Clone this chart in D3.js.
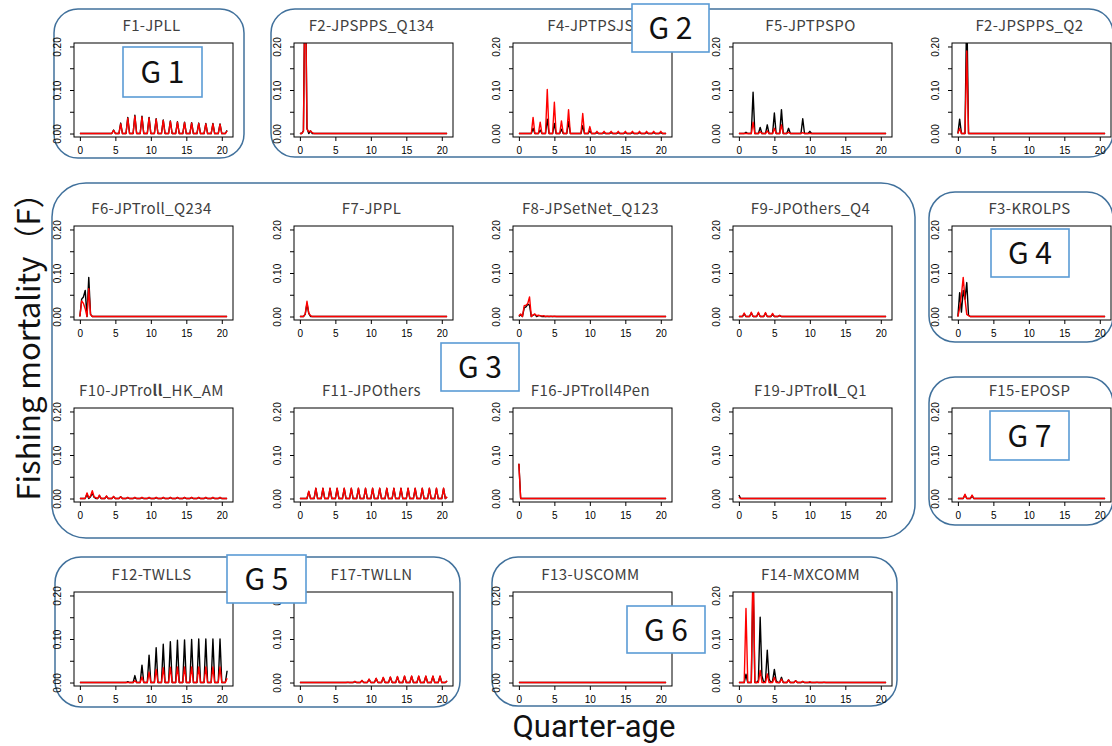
<!DOCTYPE html>
<html lang="en">
<head>
<meta charset="utf-8">
<title>Fishing mortality by fleet and quarter-age</title>
<script src="https://cdn.jsdelivr.net/npm/d3@7"></script>
<style>
  body { margin: 0; background: #fff; }
  .ttl { font-family: "Noto Sans CJK JP", "Noto Sans", sans-serif; font-size: 15px; fill: #404040; letter-spacing: 0.4px; }
  .tick text { font-family: "Liberation Sans", Arial, sans-serif; font-size: 10px; fill: #000; }
  .tick line { stroke: #000; }
  .big { font-family: "Noto Sans CJK JP", "Noto Sans", sans-serif; fill: #111; }
</style>
</head>
<body>
<script>
// quarter ages on the x axis (0 .. 20.75)
const quarterAges = d3.range(0, 20.76, 0.25);
const ageTicks = [0, 5, 10, 15, 20];
const fTicks = [0, 0.05, 0.10, 0.15, 0.20];
const fTickLabels = ["0.00", "", "0.10", "", "0.20"];

// F values as [quarter-age, F]; quarters not listed sit at 0
const f1Black = [[4.75,.008],[5.75,.024],[6.75,.037],[7.75,.042],[8.75,.040],[9.75,.037],[10.75,.034],[11.75,.031],[12.75,.029],[13.75,.027],[14.75,.026],[15.75,.025],[16.75,.024],[17.75,.023],[18.75,.023],[19.75,.022],[20.75,.007]];
const f1Red   = [[4.75,.007],[5.75,.022],[6.75,.035],[7.75,.040],[8.75,.038],[9.75,.036],[10.75,.033],[11.75,.030],[12.75,.028],[13.75,.026],[14.75,.025],[15.75,.024],[16.75,.023],[17.75,.022],[18.75,.022],[19.75,.021],[20.75,.006]];
const f2q134Black = [[0.5,.006],[0.75,.42],[1.0,.012],[1.5,.006]];
const f2q134Red   = [[0.5,.005],[0.75,.40],[1.0,.010],[1.25,.004],[1.5,.006],[1.75,.002]];
const f4Black = [[2,.012],[3,.008],[4,.033],[5,.023],[6,.010],[7,.028],[9,.018],[10,.006],[11,.002],[12,.002],[13,.002],[14,.002],[15,.002],[16,.002],[17,.002],[18,.002],[19,.002],[20,.002]];
const f4Red   = [[2,.037],[3,.026],[4,.101],[5,.072],[6,.029],[7,.055],[9,.046],[10,.016],[11,.005],[12,.005],[13,.005],[14,.005],[15,.005],[16,.005],[17,.005],[18,.005],[19,.005],[20,.005]];
const f5Black = [[1,.003],[2,.095],[3,.014],[4,.020],[5,.047],[6,.055],[7,.012],[9,.034],[10,.005]];
const f5Red   = [[2,.026],[3,.004],[4,.006],[5,.012],[6,.020],[7,.003],[9,.002]];
const f2q2Black = [[0.25,.033],[1.25,.30]];
const f2q2Red   = [[0.25,.012],[1.25,.19]];
const f6Black = [[0.25,.040],[0.5,.045],[0.75,.060],[1.25,.090],[1.5,.005]];
const f6Red   = [[0.25,.036],[0.5,.030],[0.75,.018],[1.25,.064],[1.5,.005]];
const f7Black = [[0.75,.005],[1.0,.030],[1.25,.007]];
const f7Red   = [[0.75,.006],[1.0,.035],[1.25,.008],[1.5,.002]];
const f8Black = [[0.25,.004],[0.75,.020],[1.0,.022],[1.25,.028],[1.5,.026],[2.0,.003],[2.25,.005],[2.75,.002],[3.0,.002]];
const f8Red   = [[0,.002],[0.25,.006],[0.75,.025],[1.0,.026],[1.25,.030],[1.5,.045],[2.0,.004],[2.25,.006],[2.5,.002],[2.75,.003],[3.0,.002],[3.25,.001],[3.5,.002],[4.0,.001],[4.5,.001],[5.0,.001]];
const f9Black = [[0.75,.006],[1.75,.008],[2.75,.008],[3.75,.007],[4.75,.005],[5.75,.002]];
const f9Red   = [[0.75,.008],[1.75,.010],[2.75,.010],[3.75,.009],[4.75,.007],[5.75,.003]];
const f3Black = [[0.25,.055],[0.5,.010],[0.75,.060],[1.0,.040],[1.25,.078],[1.5,.003]];
const f3Red   = [[0.25,.020],[0.5,.050],[0.75,.090],[1.0,.040],[1.25,.005],[1.5,.002]];
const f10Black = [[1.0,.010],[1.5,.004],[1.75,.012],[2.0,.003],[2.75,.006],[3.75,.005],[4.75,.004],[5.75,.004],[6.75,.002],[7.75,.002],[8.75,.002],[9.75,.002],[10.75,.002],[11.75,.002],[12.75,.002],[13.75,.002],[14.75,.002],[15.75,.002],[16.75,.002],[17.75,.002],[18.75,.002],[19.75,.002]];
const f10Red   = [[1.0,.013],[1.25,.002],[1.5,.006],[1.75,.018],[2.0,.004],[2.25,.002],[2.75,.008],[3.75,.006],[4.75,.005],[5.75,.004],[6.75,.003],[7.75,.003],[8.75,.003],[9.75,.003],[10.75,.003],[11.75,.003],[12.75,.003],[13.75,.003],[14.75,.003],[15.75,.003],[16.75,.003],[17.75,.003],[18.75,.003],[19.75,.003]];
const f11Black = [[1.25,.016],[2.25,.023],[3.25,.023],[4.25,.023],[5.25,.023],[6.25,.023],[7.25,.023],[8.25,.023],[9.25,.023],[10.25,.023],[11.25,.023],[12.25,.023],[13.25,.023],[14.25,.023],[15.25,.023],[16.25,.023],[17.25,.023],[18.25,.023],[19.25,.023],[20.25,.023],[20.75,.003]];
const f11Red   = [[1.25,.017],[2.25,.024],[3.25,.024],[4.25,.024],[5.25,.024],[6.25,.024],[7.25,.024],[8.25,.024],[9.25,.024],[10.25,.024],[11.25,.024],[12.25,.024],[13.25,.024],[14.25,.024],[15.25,.024],[16.25,.024],[17.25,.024],[18.25,.024],[19.25,.024],[20.25,.024],[20.75,.004]];
const f16Black = [[0,.080]];
const f16Red   = [[0,.080]];
const f19Black = [[0,.008]];
const f19Red   = [[0,.003]];
const f15Black = [[1.0,.008],[2.0,.006]];
const f15Red   = [[1.0,.010],[2.0,.008]];
const f12Black = [[6.75,.002],[7.75,.016],[8.75,.040],[9.75,.063],[10.75,.080],[11.75,.088],[12.75,.094],[13.75,.097],[14.75,.098],[15.75,.099],[16.75,.100],[17.75,.100],[18.75,.100],[19.75,.100],[20.75,.027]];
const f12Red   = [[7.75,.004],[8.75,.013],[9.75,.024],[10.75,.030],[11.75,.034],[12.75,.035],[13.75,.036],[14.75,.036],[15.75,.036],[16.75,.036],[17.75,.036],[18.75,.036],[19.75,.036],[20.75,.010]];
const f17Black = [[7.75,.002],[8.75,.004],[9.75,.007],[10.75,.009],[11.75,.011],[12.75,.012],[13.75,.013],[14.75,.014],[15.75,.014],[16.75,.014],[17.75,.014],[18.75,.014],[19.75,.014],[20.75,.003]];
const f17Red   = [[6.75,.001],[7.75,.003],[8.75,.005],[9.75,.008],[10.75,.010],[11.75,.012],[12.75,.013],[13.75,.014],[14.75,.015],[15.75,.015],[16.75,.015],[17.75,.015],[18.75,.015],[19.75,.015],[20.75,.004]];
const f13Black = [];
const f13Red   = [];
const f14Black = [[1.0,.019],[2.0,.25],[2.75,.005],[3.0,.150],[3.25,.015],[3.75,.004],[4.0,.074],[4.25,.008],[4.75,.003],[5.0,.030],[5.25,.004],[6.0,.012],[7.0,.006],[8.0,.004],[9.0,.002]];
const f14Red   = [[1.0,.170],[2.0,.30],[3.0,.028],[4.0,.020],[5.0,.012],[6.0,.008],[7.0,.006],[8.0,.004],[9.0,.003],[10.0,.002],[11.0,.001],[12.0,.001]];

// titles are split so the "ll" of JPTroll can be drawn heavier, as in the figure
const panels = [
  { name: ["F1-JPLL"],                  col: 0, row: 0, black: f1Black,     red: f1Red },
  { name: ["F2-JPSPPS_Q134"],           col: 1, row: 0, black: f2q134Black, red: f2q134Red },
  { name: ["F4-JPTPSJS"],               col: 2, row: 0, black: f4Black,     red: f4Red },
  { name: ["F5-JPTPSPO"],               col: 3, row: 0, black: f5Black,     red: f5Red },
  { name: ["F2-JPSPPS_Q2"],             col: 4, row: 0, black: f2q2Black,   red: f2q2Red },
  { name: ["F6-JPTroll_Q234"],          col: 0, row: 1, black: f6Black,     red: f6Red },
  { name: ["F7-JPPL"],                  col: 1, row: 1, black: f7Black,     red: f7Red },
  { name: ["F8-JPSetNet_Q123"],         col: 2, row: 1, black: f8Black,     red: f8Red },
  { name: ["F9-JPOthers_Q4"],           col: 3, row: 1, black: f9Black,     red: f9Red },
  { name: ["F3-KROLPS"],                col: 4, row: 1, black: f3Black,     red: f3Red },
  { name: ["F10-JPTro", "ll", "_HK_AM"], col: 0, row: 2, black: f10Black,   red: f10Red },
  { name: ["F11-JPOthers"],             col: 1, row: 2, black: f11Black,    red: f11Red },
  { name: ["F16-JPTroll4Pen"],          col: 2, row: 2, black: f16Black,    red: f16Red },
  { name: ["F19-JPTro", "ll", "_Q1"],    col: 3, row: 2, black: f19Black,    red: f19Red },
  { name: ["F15-EPOSP"],                col: 4, row: 2, black: f15Black,    red: f15Red },
  { name: ["F12-TWLLS"],                col: 0, row: 3, black: f12Black,    red: f12Red },
  { name: ["F17-TWLLN"],                col: 1, row: 3, black: f17Black,    red: f17Red },
  { name: ["F13-USCOMM"],               col: 2, row: 3, black: f13Black,    red: f13Red },
  { name: ["F14-MXCOMM"],               col: 3, row: 3, black: f14Black,    red: f14Red }
];

const groupLabels = ["G 1", "G 2", "G 3", "G 4", "G 5", "G 6", "G 7"];

// layout
const W = 1112, H = 746;
const colX = [74, 294, 513, 733, 952];
const rowY = [43, 226, 408, 592];
const PW = 159, PH = 94;

const svg = d3.select("body").append("svg")
  .attr("width", W)
  .attr("height", H);

// rounded group outlines
const frames = [
  { x: 54,  y: 9,   w: 190, h: 149, r: 24 },
  { x: 271, y: 9,   w: 842, h: 148, r: 24 },
  { x: 52,  y: 183, w: 863, h: 355, r: 34 },
  { x: 929, y: 192, w: 184, h: 150, r: 26 },
  { x: 55,  y: 557, w: 405, h: 150, r: 26 },
  { x: 492, y: 557, w: 405, h: 149, r: 26 },
  { x: 929, y: 377, w: 184, h: 148, r: 26 }
];
svg.append("g").selectAll("rect")
  .data(frames)
  .enter().append("rect")
  .attr("x", d => d.x).attr("y", d => d.y)
  .attr("width", d => d.w).attr("height", d => d.h)
  .attr("rx", d => d.r)
  .attr("fill", "none")
  .attr("stroke", "#41719C")
  .attr("stroke-width", 1.5);

const x = d3.scaleLinear().domain([-0.83, 21.58]).range([0, PW]);
const y = d3.scaleLinear().domain([-0.008, 0.208]).range([PH, 0]);

function fullSeries(pairs) {
  const m = new Map(pairs.map(p => [p[0], p[1]]));
  return quarterAges.map(a => [a, m.has(a) ? m.get(a) : 0]);
}

const line = d3.line().x(d => x(d[0])).y(d => y(d[1]));

panels.forEach(function (p, i) {
  const g = svg.append("g")
    .attr("transform", `translate(${colX[p.col]},${rowY[p.row]})`);

  const t = g.append("text")
    .attr("class", "ttl")
    .attr("x", PW / 2 - 2)
    .attr("y", -12.5)
    .attr("text-anchor", "middle");
  p.name.forEach((s, k) => {
    t.append("tspan").text(s).attr("font-weight", k === 1 ? 700 : null);
  });

  g.append("clipPath").attr("id", "clip" + i)
    .append("rect").attr("width", PW).attr("height", PH);

  const plot = g.append("g").attr("clip-path", `url(#clip${i})`);
  plot.append("path")
    .datum(fullSeries(p.black))
    .attr("d", line)
    .attr("fill", "none")
    .attr("stroke", "#000")
    .attr("stroke-width", 1.4)
    .attr("stroke-linejoin", "round");
  plot.append("path")
    .datum(fullSeries(p.red))
    .attr("d", line)
    .attr("fill", "none")
    .attr("stroke", "#ff0000")
    .attr("stroke-width", 1.4)
    .attr("stroke-linejoin", "round");

  const yAxis = g.append("g")
    .call(d3.axisLeft(y).tickValues(fTicks).tickSize(4).tickSizeOuter(0)
      .tickFormat((d, k) => fTickLabels[k]));
  yAxis.select(".domain").remove();
  yAxis.selectAll(".tick text")
    .attr("transform", "rotate(-90)")
    .attr("x", 0)
    .attr("y", -13)
    .attr("dy", 0)
    .attr("text-anchor", "middle");

  const xAxis = g.append("g")
    .attr("transform", `translate(0,${PH})`)
    .call(d3.axisBottom(x).tickValues(ageTicks).tickSize(4).tickSizeOuter(0).tickPadding(6));
  xAxis.select(".domain").remove();

  g.append("rect")
    .attr("width", PW).attr("height", PH)
    .attr("fill", "none")
    .attr("stroke", "#000")
    .attr("stroke-width", 1);
});

// group label boxes
const labelBoxes = [
  { x: 123, y: 47,  w: 79, h: 50 },
  { x: 632, y: 4,   w: 77, h: 48 },
  { x: 441, y: 343, w: 78, h: 48 },
  { x: 991, y: 229, w: 78, h: 48 },
  { x: 227, y: 555, w: 79, h: 48 },
  { x: 627, y: 606, w: 78, h: 47 },
  { x: 990, y: 411, w: 79, h: 49 }
];
const lb = svg.append("g").selectAll("g")
  .data(labelBoxes)
  .enter().append("g");
lb.append("rect")
  .attr("x", d => d.x).attr("y", d => d.y)
  .attr("width", d => d.w).attr("height", d => d.h)
  .attr("fill", "#fff")
  .attr("stroke", "#5B9BD5")
  .attr("stroke-width", 1.6);
lb.append("text")
  .attr("class", "big")
  .attr("x", d => d.x + d.w / 2)
  .attr("y", d => d.y + d.h / 2 + 11)
  .attr("text-anchor", "middle")
  .attr("font-size", 30)
  .text((d, k) => groupLabels[k]);

// axis titles
svg.append("text")
  .attr("class", "big")
  .attr("font-size", 31)
  .attr("text-anchor", "middle")
  .attr("transform", "translate(40,339) rotate(-90)")
  .text("Fishing mortality（F）");

svg.append("text")
  .attr("font-family", "Roboto, sans-serif")
  .attr("fill", "#111")
  .attr("font-size", 31)
  .attr("text-anchor", "middle")
  .attr("x", 594)
  .attr("y", 737)
  .text("Quarter-age");
</script>
</body>
</html>
